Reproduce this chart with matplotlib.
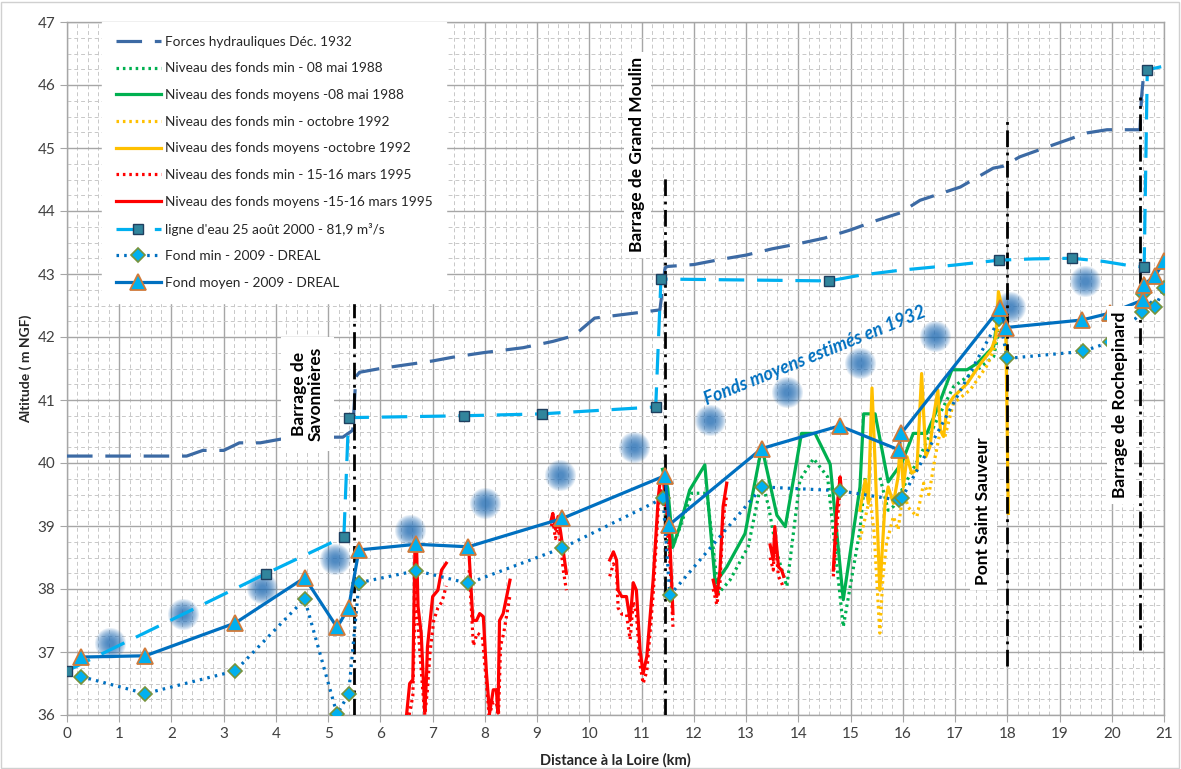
import numpy as np
import matplotlib
matplotlib.use("Agg")
import matplotlib.pyplot as plt
from matplotlib.ticker import MultipleLocator
from matplotlib.patches import Rectangle

plt.rcParams['font.family'] = ['Lato', 'DejaVu Sans']

nan = np.nan

# --- Forces hydrauliques, décembre 1932 ---
fh_x = [0.0, 2.29, 2.6, 3.0, 3.3, 3.7, 4.3, 5.28, 5.47, 5.53, 5.6, 6.0, 7.0, 7.39, 7.96, 8.73, 9.3,
        9.7, 10.1, 11.35, 11.45, 11.5, 12.0, 12.5, 13.0, 13.5, 14.0, 14.5, 15.0, 15.5, 15.95, 16.33,
        17.1, 17.73, 17.92, 18.24, 18.88, 19.53, 19.91, 20.54, 20.57, 20.62]
fh_y = [40.11, 40.11, 40.2, 40.2, 40.32, 40.32, 40.41, 40.41, 40.52, 41.37, 41.44, 41.5, 41.62, 41.68,
        41.75, 41.83, 41.93, 42.02, 42.3, 42.43, 43.1, 43.12, 43.15, 43.23, 43.3, 43.4, 43.48, 43.57,
        43.7, 43.85, 43.97, 44.17, 44.38, 44.68, 44.71, 44.86, 45.05, 45.24, 45.29, 45.29, 45.81, 46.25]

# --- Niveau des fonds 08 mai 1988 ---
g88_moy_x = [11.4, 11.5, 11.6, 11.73, 11.92, 12.21, 12.41, 12.63, 12.98, 13.3, 13.59, 13.75, 14.06,
             14.32, 14.61, 14.86, 15.18, 15.25, 15.47, 15.72, 15.98, 16.2, 16.46, 16.65, 16.94, 17.23,
             17.42, 17.74, 17.78, 17.84]
g88_moy_y = [39.9, 39.6, 38.67, 38.99, 39.57, 39.97, 38.09, 38.35, 38.88, 40.26, 39.17, 38.99, 40.47,
             40.47, 39.98, 37.83, 39.62, 40.78, 40.78, 39.7, 40.0, 40.47, 40.47, 40.84, 41.48, 41.48,
             41.58, 41.85, 42.11, 42.3]
g88_min_x = [11.45, 11.54, 11.7, 11.96, 12.25, 12.47, 12.69, 13.04, 13.3, 13.43, 13.59, 13.78, 14.03,
             14.29, 14.56, 14.86, 15.18, 15.28, 15.56, 15.72, 15.82, 16.0, 16.33, 16.65, 16.97, 17.42,
             17.74, 17.84]
g88_min_y = [39.3, 38.57, 38.9, 39.52, 39.52, 37.93, 38.14, 38.67, 39.73, 39.31, 38.57, 38.04, 39.73,
             40.07, 39.78, 37.4, 38.94, 39.78, 39.78, 39.25, 39.31, 39.6, 40.11, 40.68, 41.21, 41.48,
             41.69, 42.1]

# --- Niveau des fonds octobre 1992 ---
y92_moy_x = [15.18, 15.28, 15.34, 15.41, 15.47, 15.56, 15.66, 15.72, 15.82, 15.91, 15.95, 16.01, 16.08,
             16.17, 16.27, 16.36, 16.44, 16.52, 16.59, 16.67, 16.72, 16.78, 16.85, 16.97, 17.23, 17.49,
             17.69, 17.78, 17.83, 17.91, 17.97, 18.02]
y92_moy_y = [39.25, 39.73, 39.36, 41.19, 39.99, 37.98, 39.36, 39.62, 39.36, 39.78, 40.31, 39.62, 40.1,
             39.84, 39.89, 41.42, 40.1, 40.26, 40.74, 41.16, 40.52, 40.42, 40.9, 41.05, 41.26, 41.58,
             41.79, 42.0, 42.72, 42.43, 42.2, 39.2]
y92_min_x = [15.18, 15.3, 15.37, 15.45, 15.56, 15.62, 15.69, 15.82, 15.91, 16.01, 16.1, 16.27, 16.4,
             16.5, 16.62, 16.72, 16.8, 16.97, 17.29, 17.6, 17.74, 17.85]
y92_min_y = [38.78, 39.2, 39.46, 38.9, 37.3, 38.2, 38.73, 39.15, 38.94, 39.57, 39.3, 39.15, 39.68,
             39.5, 40.1, 40.52, 40.4, 40.95, 41.16, 41.53, 41.79, 42.25]

# --- Niveau des fonds 15-16 mars 1995 (tronçons séparés par nan) ---
r95_moy_x = [6.5, 6.56, 6.62, 6.66, 6.69, 6.72, 6.78, 6.85, 6.88, 6.9, 6.94, 7.0, 7.1, 7.17, 7.26, nan,
             7.7, 7.77, 7.84, 7.9, 7.97, 8.03, 8.09, 8.16, 8.22, 8.25, 8.28, 8.35, 8.48, nan,
             9.27, 9.3, 9.35, 9.4, 9.45, 9.5, 9.56, nan,
             10.39, 10.46, 10.52, 10.55, 10.62, 10.71, 10.78, 10.84, 10.9, 10.97, 11.03, 11.1, 11.22,
             11.32, 11.36, 11.42, 11.47, 11.54, 11.6, nan,
             12.37, 12.44, 12.5, 12.56, 12.63, nan,
             13.46, 13.52, 13.55, 13.62, 13.68, 13.72, nan,
             14.67, 14.73, 14.8, 14.82]
r95_moy_y = [36.0, 36.5, 36.56, 38.62, 38.72, 37.72, 37.3, 36.05, 36.56, 37.08, 37.4, 37.88, 37.98, 38.3, 38.41, nan,
             38.51, 37.5, 37.5, 37.61, 37.56, 36.66, 36.03, 36.4, 36.4, 36.03, 37.5, 37.61, 38.14, nan,
             39.1, 39.2, 38.95, 39.15, 38.9, 38.6, 38.25, nan,
             38.46, 38.59, 38.46, 37.98, 37.88, 37.88, 37.5, 38.1, 37.98, 37.03, 36.66, 36.93, 38.14,
             39.46, 39.75, 39.7, 39.3, 38.78, 37.61, nan,
             38.14, 37.88, 38.3, 39.31, 39.68, nan,
             38.7, 38.46, 38.99, 38.35, 38.3, 38.2, nan,
             38.3, 39.2, 39.78, 39.6]
r95_min_x = [6.55, 6.62, 6.68, 6.72, 6.8, 6.85, 6.9, 6.95, 7.02, 7.1, 7.18, 7.26, nan,
             7.7, 7.78, 7.85, 7.95, 8.03, 8.08, 8.16, 8.22, 8.26, 8.3, 8.36, 8.48, nan,
             9.27, 9.3, 9.35, 9.4, 9.45, 9.5, 9.56, nan,
             10.39, 10.46, 10.52, 10.55, 10.62, 10.71, 10.78, 10.84, 10.9, 10.97, 11.03, 11.1, 11.22,
             11.32, 11.37, 11.45, 11.54, 11.6, nan,
             12.37, 12.44, 12.5, 12.56, 12.63, nan,
             13.46, 13.52, 13.55, 13.62, 13.68, 13.72, nan,
             14.67, 14.73, 14.8]
r95_min_y = [36.0, 36.3, 38.4, 37.4, 36.5, 36.0, 36.4, 37.0, 37.5, 37.7, 37.8, 38.05, nan,
             38.3, 37.1, 37.3, 37.25, 36.5, 36.0, 36.2, 36.2, 36.0, 37.1, 37.3, 37.9, nan,
             39.0, 39.1, 38.8, 39.0, 38.7, 38.3, 37.98, nan,
             38.2, 38.4, 38.3, 37.7, 37.6, 37.6, 37.2, 37.8, 37.6, 36.8, 36.5, 36.7, 37.9,
             39.3, 39.6, 39.3, 38.5, 37.4, nan,
             38.0, 37.75, 38.1, 39.1, 39.5, nan,
             38.5, 38.3, 38.8, 38.2, 38.1, 38.0, nan,
             38.2, 38.9, 39.6]

# --- Ligne d'eau 25 août 2000 - 81,9 m3/s ---
le_x = [0.0, 3.8, 5.3, 5.39, 7.6, 9.09, 11.27, 11.37, 14.59, 15.18, 15.95, 16.97, 17.85, 18.5,
        19.24, 19.84, 20.29, 20.62, 20.68, 21.0]
le_y = [36.7, 38.24, 38.83, 40.72, 40.75, 40.78, 40.89, 42.92, 42.89, 42.98, 43.06, 43.14, 43.22,
        43.24, 43.25, 43.2, 43.14, 43.11, 46.24, 46.3]
le_marked = [0, 1, 2, 3, 4, 5, 6, 7, 8, 12, 14, 17, 18]

# --- Fond min - 2009 - DREAL ---
fmin_x = [0.27, 1.5, 3.22, 4.55, 5.17, 5.39, 5.59, 6.69, 7.68, 9.48, 11.41, 11.54, 13.31, 14.79,
          15.92, 15.98, 17.85, 18.0, 19.44, 19.97, 20.58, 20.6, 20.83, 21.0]
fmin_y = [36.61, 36.34, 36.7, 37.84, 36.01, 36.33, 38.1, 38.29, 38.09, 38.65, 39.44, 37.9, 39.62, 39.56,
          39.41, 39.44, 42.29, 41.66, 41.77, 41.92, 42.39, 42.68, 42.47, 42.78]

# --- Fond moyen - 2009 - DREAL ---
fmoy_x = [0.27, 1.5, 3.22, 4.55, 5.17, 5.39, 5.59, 6.69, 7.68, 9.48, 11.45, 11.53, 13.3, 14.79,
          15.92, 15.97, 17.86, 17.97, 19.43, 19.97, 20.6, 20.61, 20.83, 21.0]
fmoy_y = [36.92, 36.94, 37.46, 38.18, 37.39, 37.7, 38.62, 38.71, 38.67, 39.12, 39.8, 39.02, 40.23, 40.59,
          40.21, 40.47, 42.46, 42.15, 42.27, 42.38, 42.59, 42.83, 42.97, 43.2]

# --- Fonds moyens estimés en 1932 ---
f32_x = [0.82, 2.22, 3.73, 5.13, 6.57, 8.0, 9.44, 10.86, 12.31, 13.78, 15.18, 16.62, 18.05, 19.49]
f32_y = [37.15, 37.6, 38.02, 38.47, 38.94, 39.36, 39.81, 40.25, 40.68, 41.12, 41.58, 42.01, 42.47, 42.89]

# --- Ouvrages ---
ouv_x = [5.49, 11.44, 18.0, 20.55]
ouv_bas = [36.0, 36.0, 36.77, 37.03]
ouv_haut = [42.62, 44.57, 45.51, 45.81]

W, H = 1181, 769
fig = plt.figure(figsize=(W / 100, H / 100), dpi=100)
fig.patches.append(Rectangle((0.001, 0.001), 0.997, 0.997, transform=fig.transFigure,
                             fill=False, edgecolor='#D0D0D0', linewidth=1.0))
ax = fig.add_axes([67 / W, 54 / H, (1164 - 67) / W, (715 - 22) / H])

ax.set_xlim(0, 21)
ax.set_ylim(36, 47)
ax.xaxis.set_major_locator(MultipleLocator(1))
ax.yaxis.set_major_locator(MultipleLocator(1))
ax.xaxis.set_minor_locator(MultipleLocator(0.2))
ax.yaxis.set_minor_locator(MultipleLocator(0.25))
ax.grid(which='major', color='#A6A6A6', linewidth=1.0, zorder=0)
ax.grid(which='minor', color='#C8C8C8', linewidth=0.7, linestyle=(0, (4, 3)), zorder=0)
ax.set_axisbelow(True)
for s in ax.spines.values():
    s.set_color('#A6A6A6')
    s.set_linewidth(1.0)
ax.tick_params(which='major', length=5, color='#A6A6A6', labelsize=11, labelcolor='#404040')
ax.tick_params(which='minor', length=0)
ax.set_xlabel('Distance à la Loire (km)', fontsize=10.5, fontweight='bold', color='#262626', labelpad=9)
ax.set_ylabel('Altitude ( m NGF)', fontsize=10, fontweight='bold', color='#262626', labelpad=4)

# Halo bleu des fonds estimés 1932
for k in range(14):
    frac = 1 - k / 14
    ax.scatter(f32_x, f32_y, s=(5 + 26 * frac) ** 2 * 0.52, color='#2A72B8', alpha=0.11,
               linewidths=0, zorder=1)

lw = 2.3
ax.plot(fh_x, fh_y, color='#3C6AA4', lw=lw, dashes=(8, 4), zorder=3,
        label='Forces hydrauliques Déc. 1932')
ax.plot(g88_min_x, g88_min_y, color='#00B050', lw=lw, linestyle=(0, (0.8, 1.2)), zorder=3,
        label='Niveau des fonds min - 08 mai 1988')
ax.plot(g88_moy_x, g88_moy_y, color='#00B050', lw=lw, zorder=3,
        label='Niveau des fonds moyens -08 mai 1988')
ax.plot(y92_min_x, y92_min_y, color='#FFC000', lw=lw, linestyle=(0, (0.8, 1.2)), zorder=3,
        label='Niveau des fonds min - octobre 1992')
ax.plot(y92_moy_x, y92_moy_y, color='#FFC000', lw=lw, zorder=3,
        label='Niveau des fonds moyens -octobre 1992')
ax.plot(r95_min_x, r95_min_y, color='#FF0000', lw=lw, linestyle=(0, (0.8, 1.2)), zorder=3,
        label='Niveau des fonds min - 15-16 mars 1995')
ax.plot(r95_moy_x, r95_moy_y, color='#FF0000', lw=lw, zorder=3,
        label='Niveau des fonds moyens -15-16 mars 1995')

for x, y0, y1 in zip(ouv_x, ouv_bas, ouv_haut):
    ax.plot([x, x], [y0, y1], color='black', lw=2.0, dashes=(6, 2, 1, 2), zorder=4)

ax.plot(le_x, le_y, color='#00B0F0', lw=lw, dashes=(8, 4), marker='s', markersize=6.5,
        markerfacecolor='#31859C', markeredgecolor='#1F3F5F', markeredgewidth=1.0,
        markevery=le_marked, zorder=5, label="ligne d'eau 25 août 2000 - 81,9 m³/s")
ax.plot(fmin_x, fmin_y, color='#0070C0', lw=lw, linestyle=(0, (0.8, 1.6)), marker='D', markersize=7,
        markerfacecolor='#00B0F0', markeredgecolor='#77933C', markeredgewidth=1.2,
        zorder=6, label='Fond min - 2009 - DREAL')
ax.plot(fmoy_x, fmoy_y, color='#0070C0', lw=lw, marker='^', markersize=12,
        markerfacecolor='#00B0F0', markeredgecolor='#D07A3A', markeredgewidth=1.3,
        zorder=7, label='Fond moyen - 2009 - DREAL')

ax.text(12.25, 40.92, 'Fonds moyens estimés en 1932', rotation=22, rotation_mode='anchor',
        ha='left', va='baseline', fontsize=13, fontweight='bold', fontstyle='italic',
        color='#0070C0', zorder=8)

box = dict(facecolor='white', edgecolor='none', pad=4)
ax.text(4.6, 41.1, 'Barrage de\nSavonnières', rotation=90, ha='center', va='center',
        fontsize=12.5, fontweight='bold', linespacing=1.1, color='black', zorder=9,
        bbox=dict(facecolor='white', edgecolor='none', pad=7))
ax.text(10.92, 44.89, 'Barrage de Grand Moulin', rotation=90, ha='center', va='center',
        fontsize=12.5, fontweight='bold', color='black', zorder=9, bbox=box)
ax.text(17.54, 39.24, 'Pont Saint Sauveur', rotation=90, ha='center', va='center',
        fontsize=12.5, fontweight='bold', color='black', zorder=9, bbox=box)
ax.text(20.16, 40.92, 'Barrage de Rochepinard', rotation=90, ha='center', va='center',
        fontsize=12.5, fontweight='bold', color='black', zorder=9, bbox=box)

leg = ax.legend(loc='upper left', bbox_to_anchor=(0.032, 1.0), fontsize=9.8, frameon=True,
                fancybox=False, edgecolor='white', facecolor='white', framealpha=1.0,
                handlelength=3.3, labelspacing=1.08, borderpad=1.0, numpoints=1,
                handletextpad=0.3, borderaxespad=0.0)
leg.set_zorder(20)
for t in leg.get_texts():
    t.set_color('#262626')

fig.savefig('out.png', dpi=100)
